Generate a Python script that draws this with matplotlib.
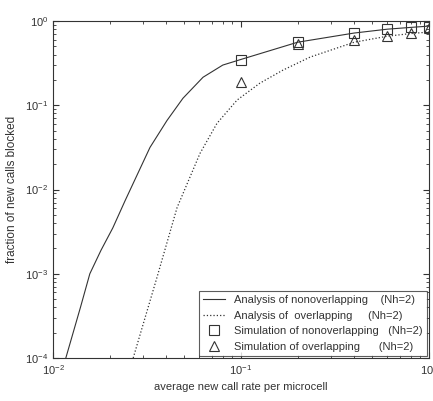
import numpy as np
import matplotlib
matplotlib.use("Agg")
import matplotlib.pyplot as plt

# analysis curves
ana_non_x = [0.0117, 0.0140, 0.0157, 0.0180, 0.0208, 0.0242, 0.0328, 0.0404, 0.0491,
             0.0628, 0.080, 0.10, 0.20, 0.40, 0.60, 0.80, 1.0]
ana_non_y = [1e-4, 4e-4, 1e-3, 0.0019, 0.0035, 0.0074, 0.0316, 0.066, 0.121,
             0.215, 0.30, 0.35, 0.56, 0.72, 0.80, 0.84, 0.87]

ana_ov_x = [0.0267, 0.0357, 0.0457, 0.0605, 0.0745, 0.0952, 0.126, 0.167,
            0.233, 0.40, 0.60, 0.80, 1.0]
ana_ov_y = [1e-4, 9e-4, 0.0061, 0.0268, 0.061, 0.115, 0.183, 0.261,
            0.373, 0.56, 0.66, 0.71, 0.74]

# simulation points
sim_x = [0.1, 0.2, 0.4, 0.6, 0.8, 1.0]
sim_non_y = [0.34, 0.56, 0.72, 0.80, 0.85, 0.86]
sim_ov_y = [0.19, 0.53, 0.59, 0.66, 0.72, 0.82]

plt.rcParams['font.family'] = ['Liberation Sans', 'DejaVu Sans']
plt.rcParams['mathtext.fontset'] = 'custom'
plt.rcParams['mathtext.rm'] = 'Liberation Sans'

fig = plt.figure(figsize=(4.33, 4.01), dpi=100)
ax = fig.add_axes([0.1224, 0.1072, 0.8684, 0.8404])

ink = '#333333'
ax.plot(ana_non_x, ana_non_y, '-', color=ink, lw=0.8,
        label='Analysis of nonoverlapping    (Nh=2)')
ax.plot(ana_ov_x, ana_ov_y, ':', color=ink, lw=0.9,
        label='Analysis of  overlapping     (Nh=2)')
ax.plot(sim_x, sim_non_y, 's', mfc='none', mec=ink, ms=7, mew=0.8,
        label='Simulation of nonoverlapping   (Nh=2)')
ax.plot(sim_x, sim_ov_y, '^', mfc='none', mec=ink, ms=7, mew=0.8,
        label='Simulation of overlapping      (Nh=2)')

ax.set_xscale('log')
ax.set_yscale('log')
ax.set_xlim(0.01, 1)
ax.set_ylim(1e-4, 1)
ax.set_xticks([0.01, 0.1, 1])
ax.set_yticks([1e-4, 1e-3, 1e-2, 1e-1, 1])
ax.tick_params(which='both', direction='in', top=True, right=True,
               labelsize=8, colors=ink)
ax.tick_params(which='major', length=4)
ax.tick_params(which='minor', length=2)
for s in ax.spines.values():
    s.set_color(ink)
    s.set_linewidth(0.8)

ax.set_xlabel('average new call rate per microcell', fontsize=8, color=ink, labelpad=4)
ax.set_ylabel('fraction of new calls blocked', fontsize=8.5, color=ink, labelpad=5)

leg = ax.legend(loc='lower right', fontsize=8, frameon=True, fancybox=False,
                edgecolor=ink, borderaxespad=0.15, handlelength=2.0,
                labelspacing=0.5, borderpad=0.4)
leg.get_frame().set_linewidth(0.8)
for t in leg.get_texts():
    t.set_color(ink)

fig.savefig('out.png', dpi=100)
